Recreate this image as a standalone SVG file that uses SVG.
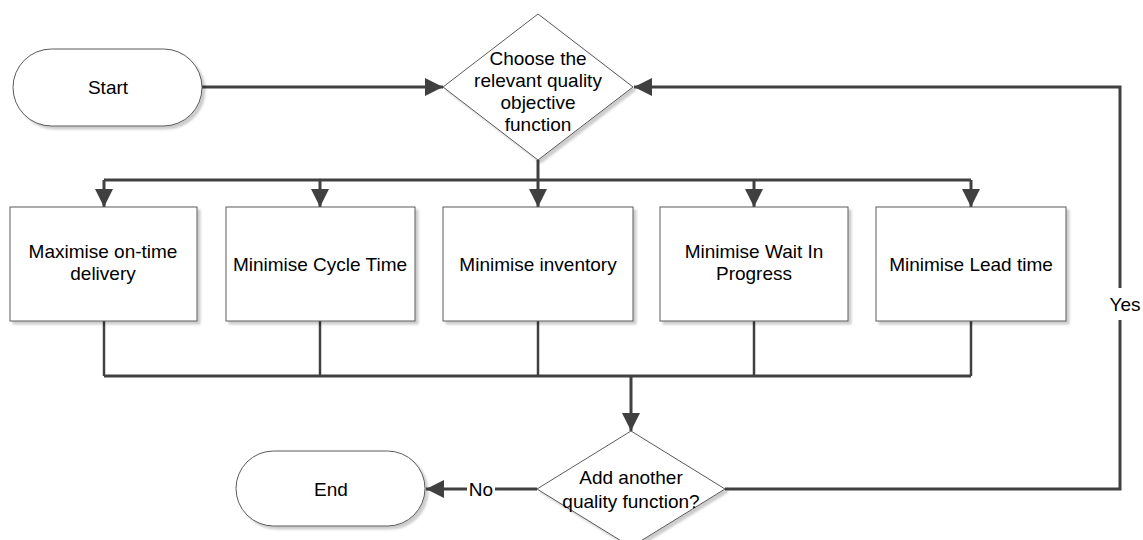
<svg xmlns="http://www.w3.org/2000/svg" width="1143" height="540" viewBox="0 0 1143 540">
  <style>
    .shape { fill: #ffffff; stroke: #5a5a5a; stroke-width: 1; filter: url(#shadow); }
    .conn { fill: none; stroke: #404040; stroke-width: 3; }
    .conn-thin { fill: none; stroke: #404040; stroke-width: 2.5; }
    .label { font-family: "Liberation Sans", Arial, sans-serif; font-size: 19px; fill: #000000; text-anchor: middle; }
  </style>
  <defs>
    <filter id="shadow" x="-10%" y="-10%" width="130%" height="130%">
      <feDropShadow dx="3" dy="3" stdDeviation="1" flood-color="#000000" flood-opacity="0.2"/>
    </filter>
    <marker id="arrow" viewBox="0 0 10 10" refX="10" refY="5" markerWidth="6" markerHeight="6" markerUnits="strokeWidth" orient="auto">
      <path d="M0,0 L10,5 L0,10 z" fill="#404040"/>
    </marker>
  </defs>

  <rect width="1143" height="540" fill="#ffffff"/>

  <!-- connectors -->
  <g id="connectors">
    <!-- start to choice -->
    <path class="conn" d="M202,87 H443" marker-end="url(#arrow)"/>
    <!-- choice to the five objectives -->
    <path class="conn" d="M538,160 V207" marker-end="url(#arrow)"/>
    <path class="conn" d="M104,180 H971"/>
    <path class="conn" d="M104,180 V207" marker-end="url(#arrow)"/>
    <path class="conn" d="M320,180 V207" marker-end="url(#arrow)"/>
    <path class="conn" d="M754,180 V207" marker-end="url(#arrow)"/>
    <path class="conn" d="M971,180 V207" marker-end="url(#arrow)"/>
    <!-- objectives merge into the second decision -->
    <path class="conn-thin" d="M104,321 V376"/>
    <path class="conn-thin" d="M320,321 V376"/>
    <path class="conn-thin" d="M538,321 V376"/>
    <path class="conn-thin" d="M754,321 V376"/>
    <path class="conn-thin" d="M971,321 V376"/>
    <path class="conn" d="M104,376 H971"/>
    <path class="conn" d="M631,376 V431" marker-end="url(#arrow)"/>
    <!-- No branch -->
    <path class="conn" d="M537,489 H426" marker-end="url(#arrow)"/>
    <rect x="467" y="478" width="28" height="22" fill="#ffffff"/>
    <text class="label" x="481" y="496">No</text>
    <!-- Yes branch loops back -->
    <path class="conn" d="M725,489 H1120 V87 H634" marker-end="url(#arrow)"/>
    <rect x="1104" y="288" width="39" height="32" fill="#ffffff"/>
    <text class="label" x="1125" y="311">Yes</text>
  </g>

  <g id="start">
    <rect class="shape" x="13" y="49" width="189" height="77" rx="38.5" ry="38.5"/>
    <text class="label" x="108" y="94">Start</text>
  </g>

  <g id="choose-objective">
    <polygon class="shape" points="538,14 633,87 538,160 443,87"/>
    <text class="label" x="538" y="65">Choose the</text>
    <text class="label" x="538" y="87">relevant quality</text>
    <text class="label" x="538" y="109">objective</text>
    <text class="label" x="538" y="131">function</text>
  </g>

  <g id="on-time-delivery">
    <rect class="shape" x="10" y="207" width="187" height="114"/>
    <text class="label" x="103" y="258">Maximise on-time</text>
    <text class="label" x="103" y="280">delivery</text>
  </g>

  <g id="cycle-time">
    <rect class="shape" x="226" y="207" width="189" height="114"/>
    <text class="label" x="320" y="271">Minimise Cycle Time</text>
  </g>

  <g id="inventory">
    <rect class="shape" x="443" y="207" width="190" height="114"/>
    <text class="label" x="538" y="271">Minimise inventory</text>
  </g>

  <g id="wait-in-progress">
    <rect class="shape" x="660" y="207" width="188" height="114"/>
    <text class="label" x="754" y="258">Minimise Wait In</text>
    <text class="label" x="754" y="280">Progress</text>
  </g>

  <g id="lead-time">
    <rect class="shape" x="876" y="207" width="190" height="114"/>
    <text class="label" x="971" y="271">Minimise Lead time</text>
  </g>

  <g id="add-another">
    <polygon class="shape" points="631,431 725,489 631,547 537,489"/>
    <text class="label" x="631" y="484">Add another</text>
    <text class="label" x="631" y="508">quality function?</text>
  </g>

  <g id="end">
    <rect class="shape" x="236" y="451" width="189" height="75" rx="37.5" ry="37.5"/>
    <text class="label" x="331" y="496">End</text>
  </g>
</svg>
